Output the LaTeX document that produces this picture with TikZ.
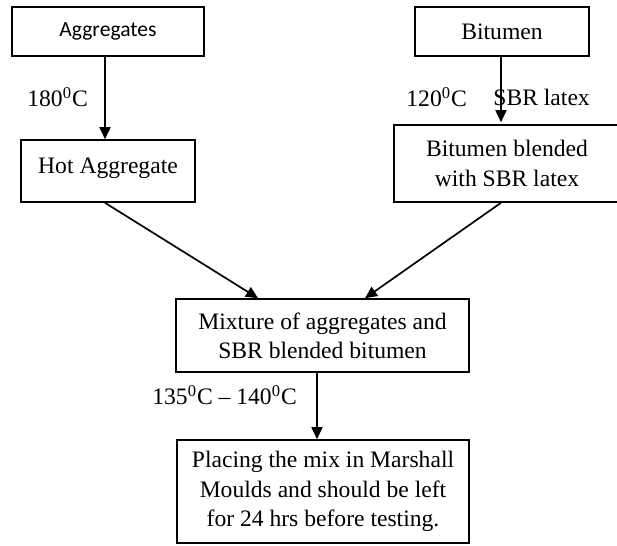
\documentclass[tikz,border=0pt]{standalone}
\usepackage{fontspec}
\setmainfont{Liberation Serif}
\newfontfamily\calib{Carlito}
\usetikzlibrary{arrows.meta}
\begin{document}
\begin{tikzpicture}[x=0.5pt,y=-0.5pt,
  box/.style={draw, line width=0.8pt, inner sep=0pt, align=center,
    font=\fontsize{11.8}{14.6}\selectfont},
  lbl/.style={anchor=west, inner sep=0pt, font=\fontsize{11.8}{14.6}\selectfont},
  conn/.style={line width=0.85pt, -{Triangle[length=6pt,width=5.5pt]}}]
\clip (0,0) rectangle (617,546);
\fill[white] (0,0) rectangle (617,546);
\node[box, minimum width=96pt, minimum height=24.5pt, font=\calib\fontsize{10.8}{13}\selectfont] (agg) at (108,31.5) {Aggregates};
\node[box, minimum width=87pt, minimum height=31pt, text depth=5.5pt] (hot) at (108,171) {Hot Aggregate};
\node[box, minimum width=87pt, minimum height=24.5pt] (bit) at (502,31.5) {Bitumen};
\node[box, minimum width=113pt, minimum height=38.5pt] (blend) at (507,163.5) {Bitumen blended\\with SBR latex};
\node[box, minimum width=146.5pt, minimum height=36.5pt] (mix) at (322.5,335.5) {Mixture of aggregates and\\SBR blended bitumen};
\node[box, minimum width=146pt, minimum height=51.5pt] (place) at (323,491.5) {Placing the mix in Marshall\\Moulds and should be left\\for 24 hrs before testing.};
\node[lbl] (t1) at (27,97) {180\textsuperscript{0}C};
\node[lbl] (t2) at (406,97) {120\textsuperscript{0}C};
\node[lbl] (t3) at (493,97) {SBR latex};
\node[lbl] (t4) at (152,395) {135\textsuperscript{0}C -- 140\textsuperscript{0}C};
\draw[conn] ([xshift=-1.5pt]agg.south) -- ([xshift=-1.5pt]hot.north);
\draw[conn] ([xshift=-0.5pt]bit.south) -- ([xshift=-0.5pt,yshift=1pt]bit.south |- blend.north);
\draw[conn] ([xshift=-1.5pt]hot.south) -- ([xshift=-32.25pt]mix.north);
\draw[conn] ([xshift=-3pt]blend.south) -- ([xshift=21.25pt]mix.north);
\draw[conn] ([xshift=-2.75pt]mix.south) -- ([xshift=-3pt]place.north);
\end{tikzpicture}
\end{document}
